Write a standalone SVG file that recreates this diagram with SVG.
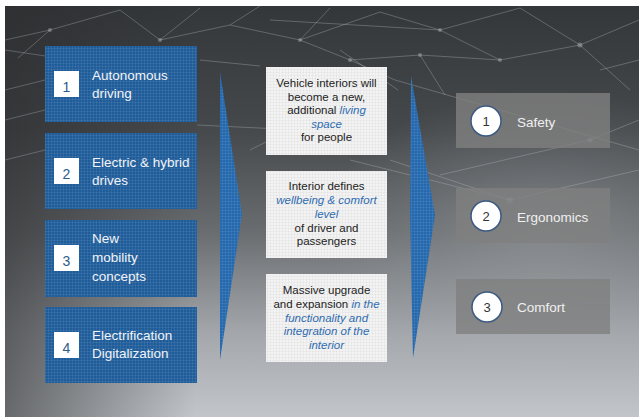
<svg xmlns="http://www.w3.org/2000/svg" width="641" height="419" viewBox="0 0 641 419">
<defs>
<linearGradient id="bgV" x1="0" y1="0" x2="0" y2="1">
<stop offset="0" stop-color="#34373a"/>
<stop offset="0.3" stop-color="#46494c"/>
<stop offset="0.55" stop-color="#6a6d70"/>
<stop offset="0.8" stop-color="#a4a8ac"/>
<stop offset="1" stop-color="#c2c6ca"/>
</linearGradient>
<linearGradient id="bgH" x1="0" y1="0" x2="1" y2="0">
<stop offset="0" stop-color="#2a2b2d" stop-opacity="0.6"/>
<stop offset="0.3" stop-color="#2a2b2d" stop-opacity="0"/>
</linearGradient>
<radialGradient id="glow" cx="0.85" cy="0.55" r="0.35">
<stop offset="0" stop-color="#b0b4b8" stop-opacity="0.35"/>
<stop offset="1" stop-color="#b0b4b8" stop-opacity="0"/>
</radialGradient>
<pattern id="grid" width="3" height="3" patternUnits="userSpaceOnUse">
<path d="M0 0.5H3M0.5 0V3" stroke="#ffffff" stroke-opacity="0.07" stroke-width="1" fill="none"/>
</pattern>
<pattern id="gridL" width="3" height="3" patternUnits="userSpaceOnUse">
<path d="M0 0.5H3M0.5 0V3" stroke="#000000" stroke-opacity="0.03" stroke-width="1" fill="none"/>
</pattern>
</defs>
<style>
.blue{fill:#1f5c9a}
.sq{fill:#ffffff}
.num{font-family:"Liberation Sans",Arial,sans-serif;font-size:14px;fill:#2d5b8c;text-anchor:middle}
.lt{font-family:"Liberation Sans",Arial,sans-serif;font-size:13.5px;fill:#f2f4f7}
.wb{fill:#f3f3f3}
.mt{font-family:"Liberation Sans",Arial,sans-serif;font-size:11.5px;fill:#222222;text-anchor:middle}
.em{font-style:italic;fill:#2f6cb0}
.gb{fill:#808080;fill-opacity:0.8}
.circ{fill:#ffffff;stroke:#3b5a82;stroke-width:1.5}
.cn{font-family:"Liberation Sans",Arial,sans-serif;font-size:13px;fill:#333333;text-anchor:middle}
.rt{font-family:"Liberation Sans",Arial,sans-serif;font-size:13.5px;fill:#f0f0f0}
.chev{fill:#2468ad}
.mesh line{stroke:#b4b9be;stroke-opacity:0.35;stroke-width:1}
.mesh circle{fill:#c0c4c8;fill-opacity:0.4}
</style>
<rect x="5" y="6" width="634" height="411" fill="url(#bgV)"/>
<rect x="5" y="6" width="634" height="411" fill="url(#bgH)"/>
<rect x="5" y="6" width="634" height="411" fill="url(#glow)"/>
<g class="mesh">
<line x1="5" y1="40" x2="50" y2="30"/>
<line x1="50" y1="30" x2="120" y2="10"/>
<line x1="50" y1="30" x2="18" y2="58"/>
<line x1="5" y1="50" x2="140" y2="70"/>
<line x1="120" y1="10" x2="160" y2="40"/>
<line x1="160" y1="40" x2="230" y2="25"/>
<line x1="230" y1="25" x2="300" y2="40"/>
<line x1="300" y1="40" x2="380" y2="12"/>
<line x1="230" y1="25" x2="260" y2="6"/>
<line x1="300" y1="40" x2="350" y2="60"/>
<line x1="350" y1="60" x2="420" y2="55"/>
<line x1="380" y1="12" x2="440" y2="30"/>
<line x1="440" y1="30" x2="520" y2="8"/>
<line x1="440" y1="30" x2="500" y2="60"/>
<line x1="500" y1="60" x2="580" y2="45"/>
<line x1="580" y1="45" x2="639" y2="20"/>
<line x1="520" y1="8" x2="580" y2="45"/>
<line x1="580" y1="45" x2="630" y2="90"/>
<line x1="420" y1="55" x2="500" y2="60"/>
<line x1="420" y1="55" x2="445" y2="95"/>
<line x1="395" y1="80" x2="639" y2="150"/>
<line x1="440" y1="175" x2="590" y2="140"/>
<line x1="590" y1="140" x2="639" y2="120"/>
<line x1="390" y1="160" x2="510" y2="200"/>
<line x1="510" y1="200" x2="639" y2="170"/>
<line x1="350" y1="160" x2="510" y2="200"/>
<line x1="600" y1="70" x2="639" y2="60"/>
<line x1="5" y1="120" x2="45" y2="110"/>
<line x1="5" y1="160" x2="45" y2="150"/>
<line x1="197" y1="125" x2="300" y2="130"/>
<line x1="250" y1="150" x2="330" y2="110"/>
<line x1="200" y1="60" x2="260" y2="66"/>
<line x1="340" y1="50" x2="398" y2="90"/>
<line x1="160" y1="40" x2="200" y2="8"/>
<line x1="300" y1="40" x2="330" y2="8"/>
<line x1="350" y1="60" x2="395" y2="80"/>
<line x1="5" y1="90" x2="45" y2="80"/>
<line x1="270" y1="20" x2="440" y2="30"/>
<circle cx="50" cy="30" r="2"/>
<circle cx="160" cy="40" r="2"/>
<circle cx="300" cy="40" r="2"/>
<circle cx="440" cy="30" r="2"/>
<circle cx="580" cy="45" r="2.5"/>
<circle cx="420" cy="55" r="2"/>
<circle cx="510" cy="200" r="3"/>
<circle cx="590" cy="140" r="2.5"/>
<circle cx="500" cy="60" r="2"/>
<circle cx="350" cy="60" r="2"/>
</g>
<g id="connectors">
<polygon class="chev" points="220,72 242,214 220,360"/>
<polygon class="chev" points="411,76 435,215 413,358 410,215"/>
<polygon points="220,72 242,214 220,360" fill="url(#grid)"/>
<polygon points="411,76 435,215 413,358 410,215" fill="url(#grid)"/>
</g>
<g id="node-autonomous">
<rect class="blue" x="45" y="46" width="152" height="76"/>
<rect x="45" y="46" width="152" height="76" fill="url(#grid)"/>
<rect class="sq" x="54" y="71" width="25" height="26"/>
<text class="num" x="66.5" y="92">1</text>
<text class="lt" x="92" y="80">Autonomous</text>
<text class="lt" x="92" y="98">driving</text>
</g>
<g id="node-electric">
<rect class="blue" x="45" y="133" width="152" height="76"/>
<rect x="45" y="133" width="152" height="76" fill="url(#grid)"/>
<rect class="sq" x="54" y="158" width="25" height="26"/>
<text class="num" x="66.5" y="179">2</text>
<text class="lt" x="92" y="167">Electric &amp; hybrid</text>
<text class="lt" x="92" y="185">drives</text>
</g>
<g id="node-mobility">
<rect class="blue" x="45" y="220" width="152" height="77"/>
<rect x="45" y="220" width="152" height="77" fill="url(#grid)"/>
<rect class="sq" x="54" y="245" width="25" height="26"/>
<text class="num" x="66.5" y="266">3</text>
<text class="lt" x="92" y="243">New</text>
<text class="lt" x="92" y="262">mobility</text>
<text class="lt" x="92" y="281">concepts</text>
</g>
<g id="node-electrification">
<rect class="blue" x="45" y="307" width="152" height="76"/>
<rect x="45" y="307" width="152" height="76" fill="url(#grid)"/>
<rect class="sq" x="54" y="332" width="25" height="26"/>
<text class="num" x="66.5" y="353">4</text>
<text class="lt" x="92" y="340">Electrification</text>
<text class="lt" x="92" y="358">Digitalization</text>
</g>
<g id="node-living-space">
<rect class="wb" x="266" y="67" width="121" height="88"/>
<rect x="266" y="67" width="121" height="88" fill="url(#gridL)"/>
<text class="mt" x="326.5" y="87">Vehicle interiors will</text>
<text class="mt" x="326.5" y="100.5">become a new,</text>
<text class="mt" x="326.5" y="114">additional <tspan class="em">living</tspan></text>
<text class="mt em" x="326.5" y="127.5">space</text>
<text class="mt" x="326.5" y="141">for people</text>
</g>
<g id="node-wellbeing">
<rect class="wb" x="266" y="171" width="121" height="87"/>
<rect x="266" y="171" width="121" height="87" fill="url(#gridL)"/>
<text class="mt" x="326.5" y="190">Interior defines</text>
<text class="mt em" x="326.5" y="204">wellbeing &amp; comfort</text>
<text class="mt em" x="326.5" y="217.5">level</text>
<text class="mt" x="326.5" y="231.5">of driver and</text>
<text class="mt" x="326.5" y="245">passengers</text>
</g>
<g id="node-upgrade">
<rect class="wb" x="266" y="274" width="121" height="88"/>
<rect x="266" y="274" width="121" height="88" fill="url(#gridL)"/>
<text class="mt" x="326.5" y="294">Massive upgrade</text>
<text class="mt" x="326.5" y="308">and expansion <tspan class="em">in the</tspan></text>
<text class="mt em" x="326.5" y="321.5">functionality and</text>
<text class="mt em" x="326.5" y="335">integration of the</text>
<text class="mt em" x="326.5" y="348.5">interior</text>
</g>
<g id="node-safety">
<rect class="gb" x="456" y="93" width="154" height="55"/>
<circle class="circ" cx="486" cy="121" r="15"/>
<text class="cn" x="486" y="125.7">1</text>
<text class="rt" x="517" y="126.5">Safety</text>
</g>
<g id="node-ergonomics">
<rect class="gb" x="456" y="188" width="154" height="55"/>
<circle class="circ" cx="486" cy="216" r="15"/>
<text class="cn" x="486" y="220.7">2</text>
<text class="rt" x="517" y="221.5">Ergonomics</text>
</g>
<g id="node-comfort">
<rect class="gb" x="456" y="279" width="154" height="55"/>
<circle class="circ" cx="487" cy="307" r="15"/>
<text class="cn" x="487" y="311.7">3</text>
<text class="rt" x="517" y="312">Comfort</text>
</g>
</svg>
